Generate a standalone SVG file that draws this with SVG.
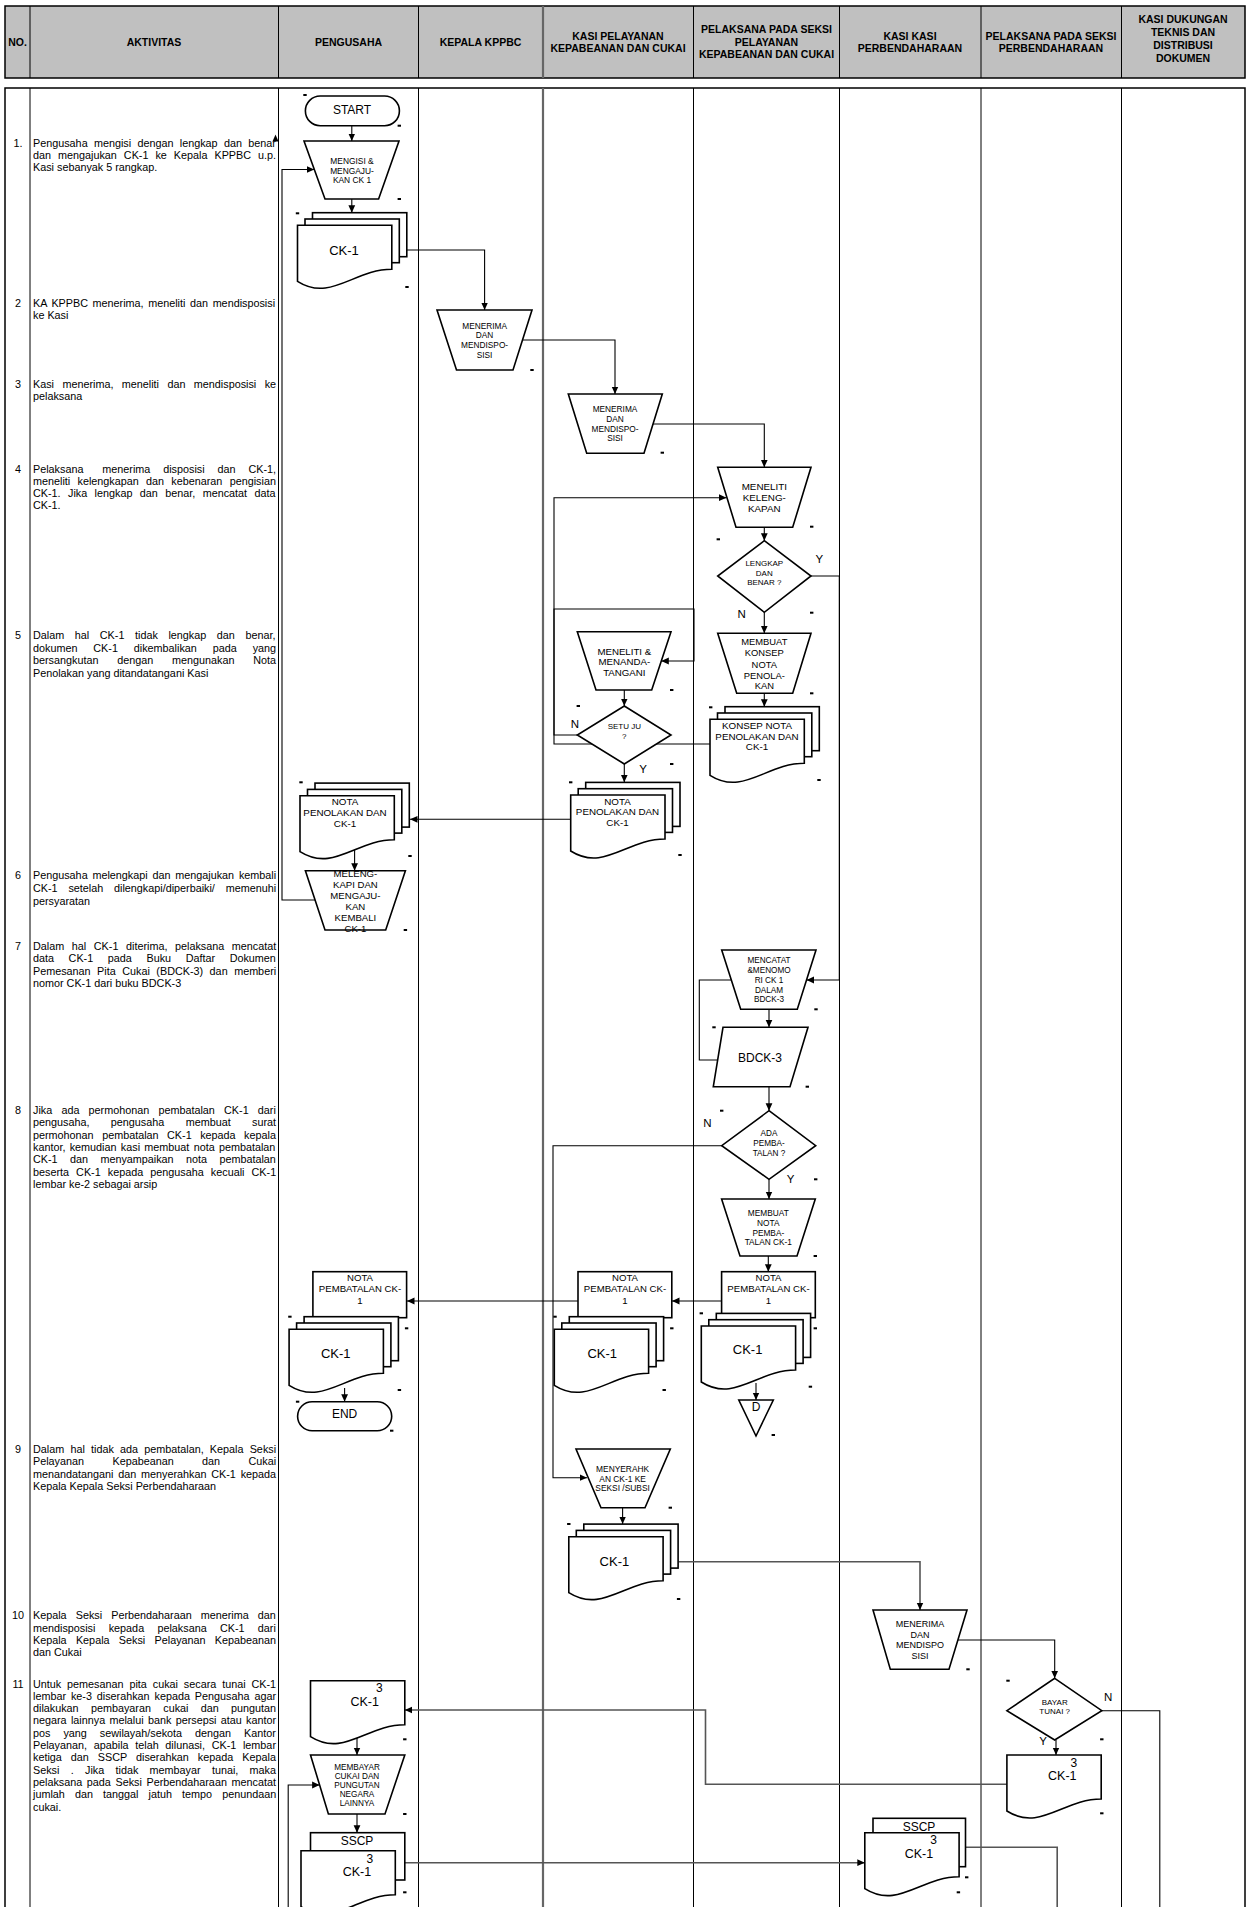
<svg xmlns="http://www.w3.org/2000/svg" xmlns:xlink="http://www.w3.org/1999/xlink" width="1249" height="1907" viewBox="0 0 1249 1907">
<style>
text{font-family:"Liberation Sans",Arial,sans-serif;fill:#000}
.hd{font-size:10.5px;font-weight:bold;text-anchor:middle}
.bt{font-size:10.8px}
.be{font-size:10.8px;text-anchor:end}
.nm{font-size:10.8px;text-anchor:middle}
.lb{text-anchor:middle}
.sh{fill:#fff;stroke:#000;stroke-width:1.6}
.ln{fill:none;stroke:#000;stroke-width:1}
.cn{fill:none;stroke:#000;stroke-width:1.1}
.cg{fill:none;stroke:#555;stroke-width:1.6}
.tk{fill:#000}
.yn{font-size:11.5px;text-anchor:middle}
</style>
<defs>
<marker id="ah" markerWidth="9" markerHeight="9" refX="7.5" refY="4" orient="auto" markerUnits="userSpaceOnUse"><path d="M0,0.6 L7.5,4 L0,7.4 Z" fill="#000"/></marker>
<g id="doc"><path d="M0,0 H94.3 V44 C56.6,44 33,77 0,56 Z" fill="#fff" stroke="#000" stroke-width="1.6"/></g>
<g id="stack"><rect x="15" y="-12.6" width="94.3" height="44" fill="#fff" stroke="#000" stroke-width="1.6"/><rect x="7.5" y="-6.3" width="94.3" height="43.7" fill="#fff" stroke="#000" stroke-width="1.6"/><path d="M0,0 H94.3 V44 C56.6,44 33,77 0,56 Z" fill="#fff" stroke="#000" stroke-width="1.6"/></g>
</defs>
<rect width="1249" height="1907" fill="#fff"/>

<g id="header">
<rect x="5" y="6" width="1240" height="72" fill="#c0c0c0" stroke="#000" stroke-width="1.5"/>
<path class="ln" d="M30,6V78M278.5,6V78M418.5,6V78M693.5,6V78M839.5,6V78M981,6V78M1121.5,6V78"/>
<path d="M543,6V78" stroke="#666" stroke-width="2.2"/>
<text class="hd" x="17.5" y="45.8">NO.</text>
<text class="hd" x="154" y="45.8">AKTIVITAS</text>
<text class="hd" x="348.5" y="45.8">PENGUSAHA</text>
<text class="hd" x="480.5" y="45.8">KEPALA KPPBC</text>
<text class="hd" x="618" y="39.8">KASI PELAYANAN</text>
<text class="hd" x="618" y="52.3">KEPABEANAN DAN CUKAI</text>
<text class="hd" x="766.5" y="33.3">PELAKSANA PADA SEKSI</text>
<text class="hd" x="766.5" y="45.8">PELAYANAN</text>
<text class="hd" x="766.5" y="58.3">KEPABEANAN DAN CUKAI</text>
<text class="hd" x="910" y="39.8">KASI KASI</text>
<text class="hd" x="910" y="52.3">PERBENDAHARAAN</text>
<text class="hd" x="1051" y="39.8">PELAKSANA PADA SEKSI</text>
<text class="hd" x="1051" y="52.3">PERBENDAHARAAN</text>
<text class="hd" x="1183" y="23.3">KASI DUKUNGAN</text>
<text class="hd" x="1183" y="36.3">TEKNIS DAN</text>
<text class="hd" x="1183" y="49.3">DISTRIBUSI</text>
<text class="hd" x="1183" y="62.3">DOKUMEN</text>
</g>

<g id="table">
<rect x="5" y="88" width="1240" height="1840" fill="none" stroke="#000" stroke-width="1.5"/>
<path class="ln" d="M30,88V1907M278.5,88V1907M418.5,88V1907M693.5,88V1907M839.5,88V1907M981,88V1907M1121.5,88V1907"/>
<path d="M543,88V1907" stroke="#666" stroke-width="2.2"/>
</g>

<g id="activities">
<text class="nm" x="18" y="146.5">1.</text>
<text class="bt" x="33" y="146.5" word-spacing="3.3">Pengusaha mengisi dengan lengkap dan benar</text>
<text class="bt" x="33" y="158.5" word-spacing="4">dan mengajukan CK-1 ke Kepala KPPBC u.p.</text>
<text class="bt" x="33" y="170.5">Kasi sebanyak 5 rangkap.</text>
<text class="nm" x="18" y="307.2">2</text>
<text class="bt" x="33" y="307.2" word-spacing="1.6">KA KPPBC menerima, meneliti dan mendisposisi</text>
<text class="bt" x="33" y="319.2">ke Kasi</text>
<text class="nm" x="18" y="388">3</text>
<text class="bt" x="33" y="388" word-spacing="5.4">Kasi menerima, meneliti dan mendisposisi ke</text>
<text class="bt" x="33" y="400">pelaksana</text>
<text class="nm" x="18" y="473">4</text>
<text class="bt" x="33" y="473">Pelaksana</text>
<text class="be" x="276" y="473" word-spacing="9.9">menerima disposisi dan CK-1,</text>
<text class="bt" x="33" y="485" word-spacing="4.3">meneliti kelengkapan dan kebenaran pengisian</text>
<text class="bt" x="33" y="497" word-spacing="4.4">CK-1. Jika lengkap dan benar, mencatat data</text>
<text class="bt" x="33" y="509">CK-1.</text>
<text class="nm" x="18" y="639">5</text>
<text class="bt" x="33" y="639" word-spacing="7.6">Dalam hal CK-1 tidak lengkap dan benar,</text>
<text class="bt" x="33" y="651.5" word-spacing="12.9">dokumen CK-1 dikembalikan pada yang</text>
<text class="bt" x="33" y="664" word-spacing="15.8">bersangkutan dengan mengunakan Nota</text>
<text class="bt" x="33" y="676.5">Penolakan yang ditandatangani Kasi</text>
<text class="nm" x="18" y="879">6</text>
<text class="bt" x="33" y="879" word-spacing="1.8">Pengusaha melengkapi dan mengajukan kembali</text>
<text class="bt" x="33" y="891.8" word-spacing="7.8">CK-1 setelah dilengkapi/diperbaiki/ memenuhi</text>
<text class="bt" x="33" y="904.6">persyaratan</text>
<text class="nm" x="18" y="950">7</text>
<text class="bt" x="33" y="950" word-spacing="4.6">Dalam hal CK-1 diterima, pelaksana mencatat</text>
<text class="bt" x="33" y="962.3" word-spacing="11.6">data CK-1 pada Buku Daftar Dokumen</text>
<text class="bt" x="33" y="974.6" word-spacing="3.5">Pemesanan Pita Cukai (BDCK-3) dan memberi</text>
<text class="bt" x="33" y="986.9">nomor CK-1 dari buku BDCK-3</text>
<text class="nm" x="18" y="1114">8</text>
<text class="bt" x="33" y="1114" word-spacing="6.2">Jika ada permohonan pembatalan CK-1 dari</text>
<text class="bt" x="33" y="1126.3" word-spacing="18.4">pengusaha, pengusaha membuat surat</text>
<text class="bt" x="33" y="1138.6" word-spacing="5.5">permohonan pembatalan CK-1 kepada kepala</text>
<text class="bt" x="33" y="1150.9" word-spacing="1.3">kantor, kemudian kasi membuat nota pembatalan</text>
<text class="bt" x="33" y="1163.2" word-spacing="9.4">CK-1 dan menyampaikan nota pembatalan</text>
<text class="bt" x="33" y="1175.5" word-spacing="4.1">beserta CK-1 kepada pengusaha kecuali CK-1</text>
<text class="bt" x="33" y="1187.8">lembar ke-2 sebagai arsip</text>
<text class="nm" x="18" y="1453">9</text>
<text class="bt" x="33" y="1453" word-spacing="3.2">Dalam hal tidak ada pembatalan, Kepala Seksi</text>
<text class="bt" x="33" y="1465.3" word-spacing="25.4">Pelayanan Kepabeanan dan Cukai</text>
<text class="bt" x="33" y="1477.6" word-spacing="1.8">menandatangani dan menyerahkan CK-1 kepada</text>
<text class="bt" x="33" y="1489.9">Kepala Kepala Seksi Perbendaharaan</text>
<text class="nm" x="18" y="1619.3">10</text>
<text class="bt" x="33" y="1619.3" word-spacing="6.1">Kepala Seksi Perbendaharaan menerima dan</text>
<text class="bt" x="33" y="1631.6" word-spacing="10.3">mendisposisi kepada pelaksana CK-1 dari</text>
<text class="bt" x="33" y="1643.9" word-spacing="6.3">Kepala Kepala Seksi Pelayanan Kepabeanan</text>
<text class="bt" x="33" y="1656.2">dan Cukai</text>
<text class="nm" x="18" y="1687.5">11</text>
<text class="bt" x="33" y="1687.5" word-spacing="2.9">Untuk pemesanan pita cukai secara tunai CK-1</text>
<text class="bt" x="33" y="1699.8" word-spacing="1.9">lembar ke-3 diserahkan kepada Pengusaha agar</text>
<text class="bt" x="33" y="1712.1" word-spacing="9.3">dilakukan pembayaran cukai dan pungutan</text>
<text class="bt" x="33" y="1724.4" word-spacing="1.3">negara lainnya melalui bank persepsi atau kantor</text>
<text class="bt" x="33" y="1736.7" word-spacing="10">pos yang sewilayah/sekota dengan Kantor</text>
<text class="bt" x="33" y="1749" word-spacing="3.7">Pelayanan, apabila telah dilunasi, CK-1 lembar</text>
<text class="bt" x="33" y="1761.3" word-spacing="6">ketiga dan SSCP diserahkan kepada Kepala</text>
<text class="bt" x="33" y="1773.6" word-spacing="8.3">Seksi . Jika tidak membayar tunai, maka</text>
<text class="bt" x="33" y="1785.9" word-spacing="1.6">pelaksana pada Seksi Perbendaharaan mencatat</text>
<text class="bt" x="33" y="1798.2" word-spacing="7.1">jumlah dan tanggal jatuh tempo penundaan</text>
<text class="bt" x="33" y="1810.5">cukai.</text>
</g>

<g id="connectors">
<path class="cn" marker-end="url(#ah)" d="M351.8,125.7V141"/>
<path class="cn" marker-end="url(#ah)" d="M351.8,199V212.7"/>
<path class="cn" marker-end="url(#ah)" d="M406.4,250H484.6V310"/>
<path class="cn" marker-end="url(#ah)" d="M522.5,340H615V394"/>
<path class="cn" marker-end="url(#ah)" d="M653,424H764.3V467.3"/>
<path class="cn" marker-end="url(#ah)" d="M764.3,527.3V540.7"/>
<path class="cn" marker-end="url(#ah)" d="M811,576H839.3V980H806.5"/>
<path class="cn" marker-end="url(#ah)" d="M764.3,612.3V633.3"/>
<path class="cn" marker-end="url(#ah)" d="M764.3,693.3V706.7"/>
<path class="cn" marker-end="url(#ah)" d="M710,744H554V609H694V661H661.3"/>
<path class="cn" marker-end="url(#ah)" d="M624.3,690V706"/>
<path class="cn" marker-end="url(#ah)" d="M577.3,735H554V497.7H726.5"/>
<path class="cn" marker-end="url(#ah)" d="M624.3,764V782.3"/>
<path class="cn" marker-end="url(#ah)" d="M570.7,819.3H410"/>
<path class="cn" marker-end="url(#ah)" d="M354.6,848V870.7"/>
<path class="cn" marker-end="url(#ah)" d="M315.1,900H282V169.5H314.3"/>
<path class="cn" marker-end="url(#ah)" d="M769,1009.3V1027.3"/>
<path class="cn" marker-end="url(#ah)" d="M731.3,980H699.3V1060H769V1110.7"/>
<path class="cn" marker-end="url(#ah)" d="M769,1179.3V1199"/>
<path class="cn" marker-end="url(#ah)" d="M721.7,1145.7H553V1477.7H587"/>
<path class="cn" marker-end="url(#ah)" d="M768.3,1256V1271.7"/>
<path class="cn" marker-end="url(#ah)" d="M721.6,1301H672"/>
<path class="cn" marker-end="url(#ah)" d="M578,1301H407"/>
<path class="cn" marker-end="url(#ah)" d="M344.6,1388V1401.7"/>
<path class="cn" marker-end="url(#ah)" d="M756,1383V1400"/>
<path class="cn" marker-end="url(#ah)" d="M622.6,1507.7V1524"/>
<path class="cg" marker-end="url(#ah)" d="M678.6,1561.7H920V1610"/>
<path class="cn" marker-end="url(#ah)" d="M957.9,1640H1054.7V1678.3"/>
<path class="cn" d="M1101.8,1710.7H1159.8V1907"/>
<path class="cn" marker-end="url(#ah)" d="M1056,1740V1755"/>
<path class="cg" marker-end="url(#ah)" d="M1006.9,1784.3H705.5V1710H404.8"/>
<path class="cn" marker-end="url(#ah)" d="M357,1736V1755"/>
<path class="cn" marker-end="url(#ah)" d="M288.2,1907V1785H319.6"/>
<path class="cn" marker-end="url(#ah)" d="M357,1814V1832.7"/>
<path class="cg" marker-end="url(#ah)" d="M395.3,1862.7H864.8"/>
<path class="cg" d="M965.5,1847.3H1057.2V1907"/>
<path d="M272.5,141.5 L275.5,134.5 L278.5,141.5 Z" fill="#000"/>
</g>

<g id="n-start"><rect class="sh" x="305.4" y="96" width="94" height="29.7" rx="14.8"/><text class="lb" x="352" y="113.8" font-size="12">START</text></g>
<g id="n-mengisi"><polygon class="sh" points="304,141 399,141 378.6,199 325,199"/><g class="lb" font-size="8.4"><text x="352" y="164">MENGISI &amp;</text><text x="352" y="173.7">MENGAJU-</text><text x="352" y="183.3">KAN CK 1</text></g></g>
<g id="n-ck1-a"><use href="#stack" x="297.5" y="225.3"/><text class="lb" x="344" y="254.7" font-size="13">CK-1</text></g>
<g id="n-menerima-kepala"><polygon class="sh" points="437,310 532,310 513,370 456.5,370"/><g class="lb" font-size="8.3"><text x="484.6" y="328.7">MENERIMA</text><text x="484.6" y="338">DAN</text><text x="484.6" y="348">MENDISPO-</text><text x="484.6" y="358">SISI</text></g></g>
<g id="n-menerima-kasi"><polygon class="sh" points="568.3,394 662.3,394 644,453.3 586.7,453.3"/><g class="lb" font-size="8.3"><text x="615" y="411.7">MENERIMA</text><text x="615" y="421.7">DAN</text><text x="615" y="432">MENDISPO-</text><text x="615" y="441">SISI</text></g></g>
<g id="n-meneliti"><polygon class="sh" points="717.7,467.3 811,467.3 792.7,527.3 736,527.3"/><g class="lb" font-size="9.8"><text x="764.3" y="490.2">MENELITI</text><text x="764.3" y="501.2">KELENG-</text><text x="764.3" y="512.2">KAPAN</text></g></g>
<g id="n-lengkap"><polygon class="sh" points="764.3,540.7 811,576 764.3,612.3 717.7,576"/><g class="lb" font-size="8"><text x="764.3" y="566.2">LENGKAP</text><text x="764.3" y="576.2">DAN</text><text x="764.3" y="585.4">BENAR ?</text></g></g>
<g id="n-konsep"><polygon class="sh" points="717.7,633.3 811,633.3 792.7,693.3 736.7,693.3"/><g class="lb" font-size="9.4"><text x="764.3" y="645.1">MEMBUAT</text><text x="764.3" y="656.1">KONSEP</text><text x="764.3" y="667.7">NOTA</text><text x="764.3" y="678.7">PENOLA-</text><text x="764.3" y="688.7">KAN</text></g></g>
<g id="n-konsep-doc"><use href="#stack" x="710" y="719.3"/><g class="lb" font-size="9.8"><text x="757" y="728.8">KONSEP NOTA</text><text x="757" y="739.5">PENOLAKAN DAN</text><text x="757" y="750">CK-1</text></g></g>
<g id="n-menandatangani"><polygon class="sh" points="577.3,631.7 671,631.7 651.7,690 596,690"/><g class="lb" font-size="9.7"><text x="624.3" y="654.5">MENELITI &amp;</text><text x="624.3" y="665.2">MENANDA-</text><text x="624.3" y="675.8">TANGANI</text></g></g>
<g id="n-setuju"><polygon class="sh" points="624.3,706 671,735 624.3,764 577.3,735"/><g class="lb" font-size="8"><text x="624.3" y="728.9">SETU JU</text><text x="624.3" y="738.6">?</text></g></g>
<g id="n-nota-kasi"><use href="#stack" x="570.7" y="795"/><g class="lb" font-size="9.8"><text x="617.5" y="804.5">NOTA</text><text x="617.5" y="815.2">PENOLAKAN DAN</text><text x="617.5" y="825.5">CK-1</text></g></g>
<g id="n-nota-peng"><use href="#stack" x="300" y="795.7"/><g class="lb" font-size="9.8"><text x="345" y="805.2">NOTA</text><text x="345" y="816">PENOLAKAN DAN</text><text x="345" y="826.5">CK-1</text></g></g>
<g id="n-melengkapi"><polygon class="sh" points="305.4,870.7 405.4,870.7 385.7,930 325,930"/><g class="lb" font-size="9.6"><text x="355.4" y="876.8">MELENG-</text><text x="355.4" y="887.8">KAPI  DAN</text><text x="355.4" y="899">MENGAJU-</text><text x="355.4" y="910.2">KAN</text><text x="355.4" y="921.2">KEMBALI</text><text x="355.4" y="932">CK-1</text></g></g>
<g id="n-mencatat"><polygon class="sh" points="721.7,950 816,950 797.3,1009.3 740.7,1009.3"/><g class="lb" font-size="8.2"><text x="769" y="963">MENCATAT</text><text x="769" y="973">&amp;MENOMO</text><text x="769" y="983">RI CK 1</text><text x="769" y="993">DALAM</text><text x="769" y="1002.3">BDCK-3</text></g></g>
<g id="n-bdck"><polygon class="sh" points="723,1027.3 808,1027.3 790,1086.7 713.3,1086.7"/><text class="lb" x="760" y="1062" font-size="12">BDCK-3</text></g>
<g id="n-ada"><polygon class="sh" points="769,1110.7 815.7,1145.7 769,1179.3 721.7,1145.7"/><g class="lb" font-size="8.2"><text x="769" y="1135.7">ADA</text><text x="769" y="1145.7">PEMBA-</text><text x="769" y="1155.7">TALAN ?</text></g></g>
<g id="n-membuat-nota"><polygon class="sh" points="721.6,1199 815.3,1199 797,1256 740,1256"/><g class="lb" font-size="8.3"><text x="768.3" y="1215.7">MEMBUAT</text><text x="768.3" y="1226.3">NOTA</text><text x="768.3" y="1236">PEMBA-</text><text x="768.3" y="1245">TALAN CK-1</text></g></g>
<g id="n-nota-pemb-pel"><rect class="sh" x="721.6" y="1271.7" width="93.7" height="46"/><g class="lb" font-size="9.6"><text x="768.5" y="1280.8">NOTA</text><text x="768.5" y="1292">PEMBATALAN CK-</text><text x="768.5" y="1303.5">1</text></g></g>
<g id="n-ck1-pel"><use href="#stack" x="701.3" y="1326"/><text class="lb" x="747.6" y="1354" font-size="13">CK-1</text></g>
<g id="n-d"><polygon class="sh" points="738.8,1400 773.3,1400 756,1436"/><text class="lb" x="756" y="1411.3" font-size="12">D</text></g>
<g id="n-nota-pemb-kasi"><rect class="sh" x="578" y="1271.7" width="93.8" height="46"/><g class="lb" font-size="9.6"><text x="625" y="1280.8">NOTA</text><text x="625" y="1292">PEMBATALAN CK-</text><text x="625" y="1303.5">1</text></g></g>
<g id="n-ck1-kasi"><use href="#stack" x="554.3" y="1329.3"/><text class="lb" x="602.2" y="1358" font-size="13">CK-1</text></g>
<g id="n-nota-pemb-peng"><rect class="sh" x="312.9" y="1271.7" width="93.7" height="46"/><g class="lb" font-size="9.6"><text x="360" y="1280.8">NOTA</text><text x="360" y="1292">PEMBATALAN CK-</text><text x="360" y="1303.5">1</text></g></g>
<g id="n-ck1-peng"><use href="#stack" x="289.1" y="1329.3"/><text class="lb" x="335.8" y="1358" font-size="13">CK-1</text></g>
<g id="n-end"><rect class="sh" x="297.6" y="1401.7" width="94.1" height="29" rx="14.5"/><text class="lb" x="344.6" y="1418.3" font-size="12">END</text></g>
<g id="n-menyerahkan"><polygon class="sh" points="576,1449 670.3,1449 645,1507.7 601,1507.7"/><g class="lb" font-size="8.4"><text x="622.6" y="1472.3">MENYERAHK</text><text x="622.6" y="1482">AN CK-1 KE</text><text x="622.6" y="1491.3">SEKSI /SUBSI</text></g></g>
<g id="n-ck1-kasi2"><use href="#stack" x="568.8" y="1536.7"/><text class="lb" x="614.4" y="1566.4" font-size="13">CK-1</text></g>
<g id="n-menerima-perb"><polygon class="sh" points="873,1610 967,1610 949,1669.3 890.3,1669.3"/><g class="lb" font-size="9"><text x="920" y="1627.2">MENERIMA</text><text x="920" y="1637.7">DAN</text><text x="920" y="1648.2">MENDISPO</text><text x="920" y="1658.9">SISI</text></g></g>
<g id="n-bayar"><polygon class="sh" points="1054.7,1678.3 1101.8,1710.7 1054.7,1740 1006.9,1710.7"/><g class="lb" font-size="8"><text x="1054.7" y="1704.6">BAYAR</text><text x="1054.7" y="1713.9">TUNAI  ?</text></g></g>
<g id="n-ck1-3-perb"><use href="#doc" x="1006.9" y="1755"/><text class="lb" x="1073.8" y="1767" font-size="12">3</text><text class="lb" x="1062.3" y="1779.5" font-size="12.5">CK-1</text></g>
<g id="n-ck1-3-peng"><use href="#doc" x="310.5" y="1680.7"/><text class="lb" x="379.3" y="1692" font-size="12">3</text><text class="lb" x="364.7" y="1706.2" font-size="12.5">CK-1</text></g>
<g id="n-membayar"><polygon class="sh" points="310.5,1755 404.8,1755 385,1814 328.4,1814"/><g class="lb" font-size="8.2"><text x="357" y="1769.7">MEMBAYAR</text><text x="357" y="1778.7">CUKAI DAN</text><text x="357" y="1787.7">PUNGUTAN</text><text x="357" y="1797">NEGARA</text><text x="357" y="1806.3">LAINNYA</text></g></g>
<g id="n-sscp-peng"><rect class="sh" x="310.5" y="1832.7" width="94.3" height="47.3"/><use href="#doc" x="301" y="1850.7"/><text class="lb" x="357" y="1845" font-size="12">SSCP</text><text class="lb" x="369.8" y="1862.6" font-size="12">3</text><text class="lb" x="357" y="1876.2" font-size="12.5">CK-1</text></g>
<g id="n-sscp-perb"><rect class="sh" x="873" y="1818.3" width="92.5" height="48.4"/><use href="#doc" x="864.8" y="1832.7"/><text class="lb" x="919" y="1831" font-size="12">SSCP</text><text class="lb" x="933.6" y="1844.3" font-size="12">3</text><text class="lb" x="919" y="1857.8" font-size="12.5">CK-1</text></g>

<g id="labels">
<text class="yn" x="819.3" y="563.4">Y</text>
<text class="yn" x="741.7" y="618.4">N</text>
<text class="yn" x="575" y="728.1">N</text>
<text class="yn" x="643" y="773.4">Y</text>
<text class="yn" x="707.3" y="1127.4">N</text>
<text class="yn" x="790.7" y="1183.4">Y</text>
<text class="yn" x="1108.2" y="1700.8">N</text>
<text class="yn" x="1043.2" y="1744.8">Y</text>
</g>

<g id="ticks" class="tk">
<rect x="303.3" y="94" width="3.4" height="2"/><rect x="397.6" y="124.7" width="3.4" height="2"/><rect x="397.6" y="198" width="3.4" height="2"/>
<rect x="295.8" y="212.3" width="3.4" height="2"/><rect x="405.3" y="286" width="3.4" height="2"/><rect x="530.3" y="369" width="3.4" height="2"/>
<rect x="660.6" y="451.7" width="3.4" height="2"/><rect x="810" y="525.7" width="3.4" height="2"/><rect x="716.6" y="538.3" width="3.4" height="2"/>
<rect x="810" y="611.7" width="3.4" height="2"/><rect x="810" y="692.3" width="3.4" height="2"/><rect x="670" y="689" width="3.4" height="2"/>
<rect x="576.6" y="705" width="3.4" height="2"/><rect x="670" y="763" width="3.4" height="2"/><rect x="709" y="706.3" width="3.4" height="2"/>
<rect x="817.3" y="779" width="3.4" height="2"/><rect x="569" y="781.3" width="3.4" height="2"/><rect x="678.3" y="854" width="3.4" height="2"/>
<rect x="299.3" y="781.3" width="3.4" height="2"/><rect x="408.3" y="855" width="3.4" height="2"/><rect x="403.7" y="929" width="3.4" height="2"/>
<rect x="814.3" y="1008.3" width="3.4" height="2"/><rect x="712.3" y="1026.3" width="3.4" height="2"/><rect x="805.6" y="1085.7" width="3.4" height="2"/>
<rect x="720" y="1109.7" width="3.4" height="2"/><rect x="814" y="1178.3" width="3.4" height="2"/><rect x="813.6" y="1255" width="3.4" height="2"/>
<rect x="699.6" y="1312.3" width="3.4" height="2"/><rect x="813.6" y="1327.3" width="3.4" height="2"/><rect x="808.7" y="1385.7" width="3.4" height="2"/>
<rect x="771.6" y="1434" width="3.4" height="2"/><rect x="553.3" y="1315.7" width="3.4" height="2"/><rect x="670.1" y="1327.3" width="3.4" height="2"/>
<rect x="662.5" y="1389" width="3.4" height="2"/><rect x="288.2" y="1315.7" width="3.4" height="2"/><rect x="404.9" y="1327.3" width="3.4" height="2"/>
<rect x="397.7" y="1389" width="3.4" height="2"/><rect x="295.9" y="1400.7" width="3.4" height="2"/><rect x="390" y="1429.7" width="3.4" height="2"/>
<rect x="668.6" y="1506.7" width="3.4" height="2"/><rect x="567.1" y="1523" width="3.4" height="2"/><rect x="676.9" y="1598" width="3.4" height="2"/>
<rect x="966.3" y="1668.3" width="3.4" height="2"/><rect x="1006.3" y="1679.7" width="3.4" height="2"/><rect x="1100.1" y="1738.3" width="3.4" height="2"/>
<rect x="1100.1" y="1812.3" width="3.4" height="2"/><rect x="403.1" y="1738.3" width="3.4" height="2"/><rect x="403.1" y="1813" width="3.4" height="2"/>
<rect x="403.1" y="1891.3" width="3.4" height="2"/><rect x="965" y="1876.3" width="3.4" height="2"/><rect x="956.7" y="1891.3" width="3.4" height="2"/>
</g>
</svg>
